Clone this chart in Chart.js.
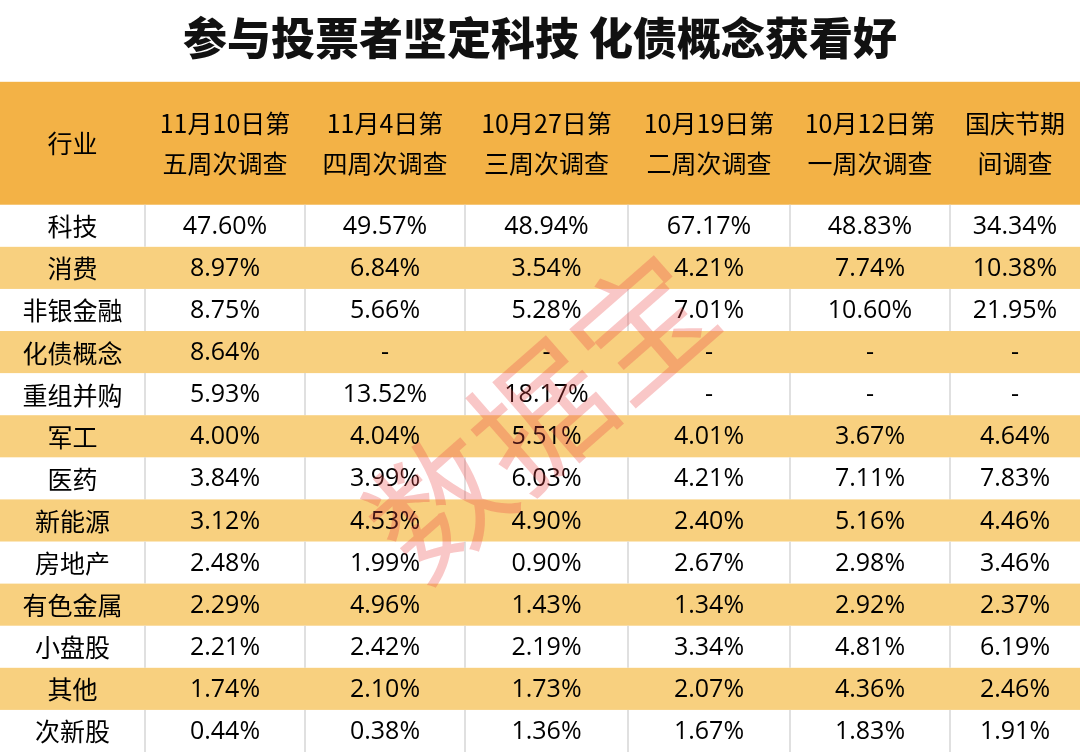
<!DOCTYPE html>
<html><head><meta charset="utf-8">
<script src="https://cdn.jsdelivr.net/npm/chart.js@4/dist/chart.umd.min.js"></script>
<style>html,body{margin:0;padding:0;background:#fff}#wrap{width:1080px;height:752px}</style>
</head><body><div id="wrap"><canvas id="c"></canvas></div>
<script>
const title = '参与投票者坚定科技 化债概念获看好';
const firstHeader = '行业';
const industries = ['科技','消费','非银金融','化债概念','重组并购','军工','医药','新能源','房地产','有色金属','小盘股','其他','次新股'];
const surveyLabels = [['11月10日第','五周次调查'],['11月4日第','四周次调查'],['10月27日第','三周次调查'],['10月19日第','二周次调查'],['10月12日第','一周次调查'],['国庆节期','间调查']];
const week5 = [47.60,8.97,8.75,8.64,5.93,4.00,3.84,3.12,2.48,2.29,2.21,1.74,0.44];
const week4 = [49.57,6.84,5.66,null,13.52,4.04,3.99,4.53,1.99,4.96,2.42,2.10,0.38];
const week3 = [48.94,3.54,5.28,null,18.17,5.51,6.03,4.90,0.90,1.43,2.19,1.73,1.36];
const week2 = [67.17,4.21,7.01,null,null,4.01,4.21,2.40,2.67,1.34,3.34,2.07,1.67];
const week1 = [48.83,7.74,10.60,null,null,3.67,7.11,5.16,2.98,2.92,4.81,4.36,1.83];
const holiday = [34.34,10.38,21.95,null,null,4.64,7.83,4.46,3.46,2.37,6.19,2.46,1.91];
const series = [week5,week4,week3,week2,week1,holiday];

const colEdges = [0,145,305,465,628,790,950,1080];
const headerUnits = 2.92;
const FONT = '"Noto Sans CJK SC", "Noto Sans", sans-serif';
const NUMFONT = '"Open Sans", "Noto Sans CJK SC", sans-serif';

const tablePlugin = {
  id:'table',
  beforeDatasetsDraw(chart){
    const {ctx, scales:{x,y}} = chart;
    const X = v=>x.getPixelForValue(v), Y = v=>y.getPixelForValue(v);
    ctx.save();
    ctx.fillStyle='#f3b246';
    ctx.fillRect(X(0),Y(0),X(1080)-X(0),Y(headerUnits)-Y(0));
    ctx.fillStyle='#000';
    ctx.textAlign='center'; ctx.textBaseline='middle';
    ctx.font='25px '+FONT;
    const hc = (Y(0)+Y(headerUnits))/2;
    ctx.fillText(firstHeader,(X(colEdges[0])+X(colEdges[1]))/2,hc);
    surveyLabels.forEach((lab,i)=>{
      const cx=(X(colEdges[i+1])+X(colEdges[i+2]))/2;
      ctx.fillText(lab[0],cx,hc-20);
      ctx.fillText(lab[1],cx,hc+20);
    });
    industries.forEach((name,r)=>{
      const y0=Y(headerUnits+r), y1=Y(headerUnits+r+1);
      if(r%2===1){ctx.fillStyle='#f8d07f';ctx.fillRect(X(0),y0,X(1080)-X(0),y1-y0);}
      else{
        ctx.strokeStyle='#d6d6d6';ctx.lineWidth=1.5;
        for(let k=1;k<colEdges.length-1;k++){ctx.beginPath();ctx.moveTo(X(colEdges[k]),y0);ctx.lineTo(X(colEdges[k]),y1);ctx.stroke();}
      }
      ctx.fillStyle='#000';
      const cy=(y0+y1)/2+1;
      ctx.font='25px '+FONT;
      ctx.fillText(name,(X(colEdges[0])+X(colEdges[1]))/2,cy);
      ctx.font='25px '+NUMFONT;
      series.forEach((s,i)=>{
        const cx=(X(colEdges[i+1])+X(colEdges[i+2]))/2;
        ctx.fillText(s[r]==null?'-':s[r].toFixed(2)+'%',cx,cy);
      });
    });
    ctx.restore();
  },
  afterDraw(chart){
    const {ctx, scales:{x,y}} = chart;
    ctx.save();
    ctx.translate(x.getPixelForValue(540),y.getPixelForValue(headerUnits+5.0));
    ctx.rotate(-0.72);
    ctx.fillStyle='rgba(235,70,70,0.3)';
    ctx.font='135px '+FONT; ctx.textAlign='center'; ctx.textBaseline='middle';
    ctx.fillText('数据宝',0,0);
    ctx.restore();
  }
};

new Chart(document.getElementById('c'),{
  type:'scatter',
  data:{datasets:[{data:[],showLine:false}]},
  options:{
    responsive:true, maintainAspectRatio:false, animation:false,
    layout:{padding:0},
    plugins:{legend:{display:false},tooltip:{enabled:false},
      title:{display:true,text:title,color:'#111',font:{family:FONT,size:44,weight:'900'},padding:{top:12,bottom:17}}},
    scales:{
      x:{type:'linear',min:0,max:1080,display:false},
      y:{type:'linear',min:0,max:headerUnits+industries.length,reverse:true,display:false}
    }
  },
  plugins:[tablePlugin]
});
</script></body></html>
